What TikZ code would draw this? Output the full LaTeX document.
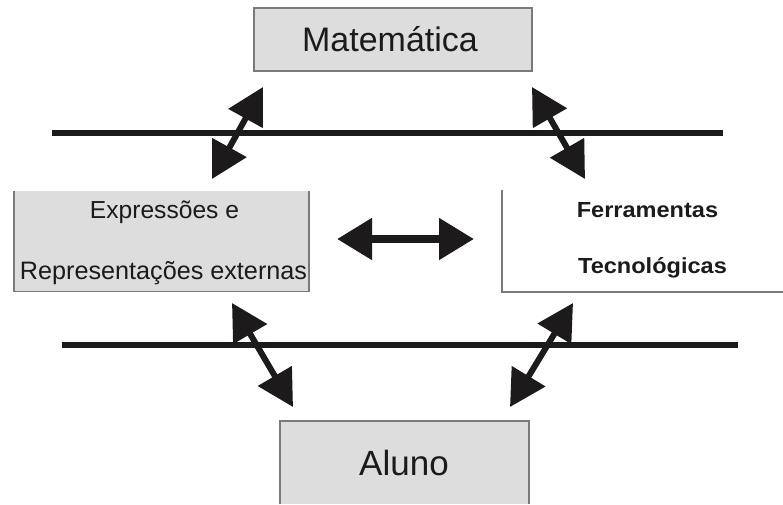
\documentclass[tikz,border=0pt]{standalone}
\usepackage{fontspec}
\setmainfont{Liberation Sans}
\newfontfamily\ferrfont[FakeStretch=1.08]{Liberation Sans}
\usetikzlibrary{arrows.meta}
\definecolor{boxgray}{HTML}{DDDDDD}
\definecolor{edgegray}{HTML}{7A7A7A}
\definecolor{ink}{HTML}{1C1A1A}
\begin{document}
\begin{tikzpicture}[x=1pt,y=-1pt,
  boxnode/.style={rectangle, inner sep=0pt, outer sep=0pt},
  grayfill/.style={boxnode, fill=boxgray},
  edge/.style={draw=edgegray, line width=1.3pt},
  bar/.style={draw=ink, line width=6pt},
  dbl/.style={draw=ink, line width=6pt, {Triangle[length=36pt,width=38pt]}-{Triangle[length=36pt,width=38pt]}},
  dblmid/.style={draw=ink, line width=8pt, {Triangle[length=35pt,width=40pt]}-{Triangle[length=35pt,width=40pt]}},
  lbl/.style={inner sep=0pt, anchor=base, text=ink}
]
\useasboundingbox (0,0) rectangle (783,504);

% boxes
\node[grayfill, draw=edgegray, line width=1.3pt, minimum width=278pt, minimum height=63pt] (mat) at (393,39.5) {};
\node[grayfill, minimum width=295pt, minimum height=101pt] (exp) at (161.5,241) {};
\draw[edge] (exp.north west) -- (exp.south west) -- (exp.south east) -- (exp.north east);
\node[boxnode, minimum width=282pt, minimum height=102pt] (fer) at (643,241) {};
\draw[edge] (fer.north west) -- (fer.south west) -- (fer.south east);
\node[grayfill, minimum width=249pt, minimum height=83pt] (alu) at (404.5,462.5) {};
\draw[edge] (alu.south west) -- (alu.north west) -- (alu.north east) -- (alu.south east);

% texts
\node[lbl, font=\fontsize{34}{40}\selectfont] (tmat) at (390,51) {Matemática};
\node[lbl, font=\fontsize{24.6}{30}\selectfont] (texp1) at (164.5,218) {Expressões e};
\node[lbl, font=\fontsize{25.2}{30}\selectfont] (texp2) at (163.5,279) {Representações externas};
\node[lbl, font=\ferrfont\bfseries\fontsize{21.8}{26}\selectfont] (tfer1) at (647.5,217) {Ferramentas};
\node[lbl, font=\ferrfont\bfseries\fontsize{21.8}{26}\selectfont] (tfer2) at (652.5,273) {Tecnológicas};
\node[lbl, font=\fontsize{35}{40}\selectfont] (talu) at (404,475) {Aluno};

% separator bars
\coordinate (b1l) at (52,133);
\coordinate (b1r) at (723,133);
\coordinate (b2l) at (62,345);
\coordinate (b2r) at (738,345);
\draw[bar] (b1l) -- (b1r);
\draw[bar] (b2l) -- (b2r);

% arrow end points
\coordinate (tla) at (263,87);
\coordinate (tlb) at (212,179);
\coordinate (tra) at (532,87);
\coordinate (trb) at (585,179);
\coordinate (bla) at (232,303);
\coordinate (blb) at (293,407);
\coordinate (bra) at (573,303);
\coordinate (brb) at (510,407);
\coordinate (ml) at (337,239);
\coordinate (mr) at (474,239);

\draw[dbl] (tlb) -- (tla);
\draw[dbl] (tra) -- (trb);
\draw[dbl] (bla) -- (blb);
\draw[dbl] (bra) -- (brb);
\draw[dblmid] (ml) -- (mr);
\end{tikzpicture}
\end{document}
